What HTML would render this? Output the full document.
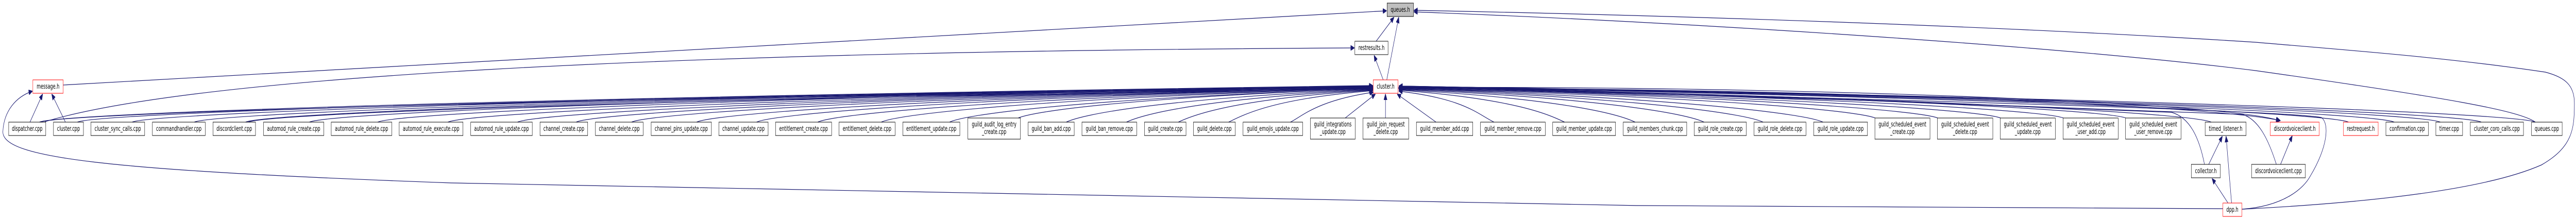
<!DOCTYPE html>
<html>
<head>
<meta charset="utf-8">
<style>
html,body{margin:0;padding:0;background:#ffffff;overflow:hidden;width:100%;height:100%;}
svg{display:block;width:100vw;height:100vh;}
text{font-family:"DejaVu Sans","Liberation Sans",sans-serif;font-size:13px;fill:#000;text-anchor:middle;}
</style>
</head>
<body>
<svg xmlns="http://www.w3.org/2000/svg" viewBox="0 0 7995 425" preserveAspectRatio="none">
<defs>
<marker id="a" viewBox="0 0 12 10" refX="11" refY="5" markerWidth="12" markerHeight="10" markerUnits="userSpaceOnUse" orient="auto">
<path d="M0,0 L12,5 L0,10 z" fill="#191970" stroke="#191970"/>
</marker>
</defs>
<rect x="0" y="0" width="7995" height="425" fill="#ffffff"/>
<g fill="none" stroke="#191970" stroke-width="1.2" marker-end="url(#a)">
<path d="M196,165 L4303,21"/>
<path d="M140,236 C600,150 2000,100 4203,93"/>
<path d="M93,237 L132,183"/>
<path d="M203,237 L161,183"/>
<path d="M6899,405 C5000,405 2500,380 1400,355 C300,330 5,305 9,255 C12,215 50,188 100,177"/>
<path d="M4271,80 L4326,34"/>
<path d="M4293,155 L4265,108"/>
<path d="M4304,155 L4341,34"/>
<path d="M6958,406 C7300,395 7700,372 7888,320 C7985,285 7990,250 7990,200 C7990,165 7960,150 7900,140 C7600,112 7300,98 7000,82 C6200,50 5200,30 4389,20"/>
<path d="M7869,237 C7820,215 7600,190 7000,137 C6400,90 5300,45 4389,23"/>
<path d="M6915,394 L6866,347"/>
<path d="M6926,394 L6909,265"/>
<path d="M6855,319 L6897,265"/>
<path d="M7078,319 L7114,264"/>
<path d="M6842,319 C6825,265 6795,228 6740,218 C6000,196 4700,174 4342,168"/>
<path d="M7065,319 C7040,270 7010,232 6960,222 C6200,200 4700,175 4342,168"/>
<path d="M6958,406 C7090,400 7150,365 7170,342 C7225,285 7230,240 7205,228 C7100,215 6000,195 4342,168"/>
<path d="M126,237 C180,221 1500,194 4300,170 C5500,165 6900,198 7075,234"/>
<path d="M770,237 C830,221 2000,192 4300,172 C5500,168 6850,203 7077,234"/>
<path d="M122,237 C172,222 1364,192 4260,166"/>
<path d="M240,237 C290,222 1447,192 4260,167"/>
<path d="M410,237 C460,222 1566,192 4260,167"/>
<path d="M603,237 C653,222 1701,192 4260,167"/>
<path d="M762,237 C812,222 1812,192 4260,168"/>
<path d="M960,237 C1010,222 1951,192 4260,168"/>
<path d="M1172,237 C1222,222 2099,192 4260,168"/>
<path d="M1390,237 C1440,222 2252,192 4260,169"/>
<path d="M1606,237 C1656,222 2403,192 4260,169"/>
<path d="M1788,237 C1838,222 2531,192 4260,169"/>
<path d="M1960,237 C2010,222 2651,192 4260,170"/>
<path d="M2162,237 C2212,222 2792,192 4260,170"/>
<path d="M2348,237 C2398,222 2922,192 4260,170"/>
<path d="M2538,237 C2588,222 3055,192 4260,171"/>
<path d="M2735,237 C2785,222 3193,192 4260,171"/>
<path d="M2947,237 C2997,222 3342,192 4260,172"/>
<path d="M3160,229 C3210,216 3491,190 4260,172"/>
<path d="M3309,237 C3359,222 3595,192 4260,173"/>
<path d="M3496,237 C3546,222 3726,192 4260,174"/>
<path d="M3657,237 C3707,222 3839,192 4260,175"/>
<path d="M3813,237 C3863,222 3948,192 4260,176"/>
<path d="M4005,237 C4045,224 4090,195 4262,179"/>
<path d="M4175,229 L4268,183"/>
<path d="M4300,229 L4300,183"/>
<path d="M4457,237 L4337,183"/>
<path d="M4637,237 C4587,222 4548,192 4342,177"/>
<path d="M4856,237 C4806,222 4701,192 4342,175"/>
<path d="M5075,237 C5025,222 4855,192 4342,174"/>
<path d="M5289,237 C5239,222 5004,192 4342,173"/>
<path d="M5472,237 C5422,222 5132,192 4342,172"/>
<path d="M5658,237 C5608,222 5263,192 4342,171"/>
<path d="M5820,229 C5770,216 5376,190 4342,171"/>
<path d="M6014,229 C5964,216 5512,190 4342,170"/>
<path d="M6209,229 C6159,216 5648,190 4342,170"/>
<path d="M6404,229 C6354,216 5785,190 4342,169"/>
<path d="M6598,229 C6548,216 5921,190 4342,169"/>
<path d="M6863,237 C6813,222 6106,192 4342,168"/>
<path d="M7289,237 C7239,222 6404,192 4342,168"/>
<path d="M7431,237 C7381,222 6504,192 4342,168"/>
<path d="M7574,237 C7524,222 6604,192 4342,167"/>
<path d="M7701,237 C7651,222 6693,192 4342,167"/>
<path d="M7869,237 C7819,222 6810,192 4342,167"/>
</g>

<g stroke="#000000" stroke-width="1" fill="#ffffff">
<rect x="4305" y="6" width="82" height="26" fill="#bfbfbf"/>
<rect x="4205" y="80" width="103" height="26"/>
<rect x="102" y="155" width="94" height="26" stroke="#ff0000"/>
<rect x="4262" y="155" width="77" height="26" stroke="#ff0000"/>
<rect x="27" y="237" width="115" height="26"/>
<rect x="166" y="237" width="93" height="26"/>
<rect x="282" y="237" width="167" height="26"/>
<rect x="473" y="237" width="164" height="26"/>
<rect x="661" y="237" width="132" height="26"/>
<rect x="818" y="237" width="187" height="26"/>
<rect x="1028" y="237" width="188" height="26"/>
<rect x="1239" y="237" width="198" height="26"/>
<rect x="1461" y="237" width="191" height="26"/>
<rect x="1676" y="237" width="148" height="26"/>
<rect x="1848" y="237" width="148" height="26"/>
<rect x="2021" y="237" width="187" height="26"/>
<rect x="2231" y="237" width="153" height="26"/>
<rect x="2407" y="237" width="174" height="26"/>
<rect x="2604" y="237" width="174" height="26"/>
<rect x="2802" y="237" width="177" height="26"/>
<rect x="3004" y="229" width="163" height="41"/>
<rect x="3191" y="237" width="143" height="26"/>
<rect x="3358" y="237" width="170" height="26"/>
<rect x="3552" y="237" width="129" height="26"/>
<rect x="3704" y="237" width="130" height="26"/>
<rect x="3858" y="237" width="185" height="26"/>
<rect x="4067" y="229" width="139" height="41"/>
<rect x="4230" y="229" width="142" height="41"/>
<rect x="4396" y="237" width="175" height="26"/>
<rect x="4595" y="237" width="201" height="26"/>
<rect x="4819" y="237" width="195" height="26"/>
<rect x="5038" y="237" width="197" height="26"/>
<rect x="5258" y="237" width="162" height="26"/>
<rect x="5444" y="237" width="161" height="26"/>
<rect x="5629" y="237" width="167" height="26"/>
<rect x="5819" y="229" width="171" height="41"/>
<rect x="6013" y="229" width="172" height="41"/>
<rect x="6208" y="229" width="171" height="41"/>
<rect x="6403" y="229" width="171" height="41"/>
<rect x="6597" y="229" width="172" height="41"/>
<rect x="6844" y="237" width="127" height="26"/>
<rect x="7046" y="237" width="152" height="26" stroke="#ff0000"/>
<rect x="7273" y="237" width="108" height="26" stroke="#ff0000"/>
<rect x="7405" y="237" width="132" height="26"/>
<rect x="7560" y="237" width="83" height="26"/>
<rect x="7667" y="237" width="165" height="26"/>
<rect x="7857" y="237" width="95" height="26"/>
<rect x="6801" y="319" width="90" height="26"/>
<rect x="6988" y="319" width="167" height="26"/>
<rect x="6899" y="394" width="59" height="26" stroke="#ff0000"/>
</g>

<g>
<text x="4346" y="23">queues.h</text>
<text x="4256.5" y="97">restresults.h</text>
<text x="149" y="172">message.h</text>
<text x="4300.5" y="172">cluster.h</text>
<text x="84.5" y="254">dispatcher.cpp</text>
<text x="212.5" y="254">cluster.cpp</text>
<text x="365.5" y="254">cluster_sync_calls.cpp</text>
<text x="555" y="254">commandhandler.cpp</text>
<text x="727" y="254">discordclient.cpp</text>
<text x="911.5" y="254">automod_rule_create.cpp</text>
<text x="1122" y="254">automod_rule_delete.cpp</text>
<text x="1338" y="254">automod_rule_execute.cpp</text>
<text x="1556.5" y="254">automod_rule_update.cpp</text>
<text x="1750" y="254">channel_create.cpp</text>
<text x="1922" y="254">channel_delete.cpp</text>
<text x="2114.5" y="254">channel_pins_update.cpp</text>
<text x="2307.5" y="254">channel_update.cpp</text>
<text x="2494" y="254">entitlement_create.cpp</text>
<text x="2691" y="254">entitlement_delete.cpp</text>
<text x="2890.5" y="254">entitlement_update.cpp</text>
<text x="3085.5" y="245.5">guild_audit_log_entry</text>
<text x="3085.5" y="260">_create.cpp</text>
<text x="3262.5" y="254">guild_ban_add.cpp</text>
<text x="3443" y="254">guild_ban_remove.cpp</text>
<text x="3616.5" y="254">guild_create.cpp</text>
<text x="3769" y="254">guild_delete.cpp</text>
<text x="3950.5" y="254">guild_emojis_update.cpp</text>
<text x="4136.5" y="245.5">guild_integrations</text>
<text x="4136.5" y="260">_update.cpp</text>
<text x="4301" y="245.5">guild_join_request</text>
<text x="4301" y="260">_delete.cpp</text>
<text x="4483.5" y="254">guild_member_add.cpp</text>
<text x="4695.5" y="254">guild_member_remove.cpp</text>
<text x="4916.5" y="254">guild_member_update.cpp</text>
<text x="5136.5" y="254">guild_members_chunk.cpp</text>
<text x="5339" y="254">guild_role_create.cpp</text>
<text x="5524.5" y="254">guild_role_delete.cpp</text>
<text x="5712.5" y="254">guild_role_update.cpp</text>
<text x="5904.5" y="245.5">guild_scheduled_event</text>
<text x="5904.5" y="260">_create.cpp</text>
<text x="6099" y="245.5">guild_scheduled_event</text>
<text x="6099" y="260">_delete.cpp</text>
<text x="6293.5" y="245.5">guild_scheduled_event</text>
<text x="6293.5" y="260">_update.cpp</text>
<text x="6488.5" y="245.5">guild_scheduled_event</text>
<text x="6488.5" y="260">_user_add.cpp</text>
<text x="6683" y="245.5">guild_scheduled_event</text>
<text x="6683" y="260">_user_remove.cpp</text>
<text x="6907.5" y="254">timed_listener.h</text>
<text x="7122" y="254">discordvoiceclient.h</text>
<text x="7327" y="254">restrequest.h</text>
<text x="7471" y="254">confirmation.cpp</text>
<text x="7601.5" y="254">timer.cpp</text>
<text x="7749.5" y="254">cluster_coro_calls.cpp</text>
<text x="7904.5" y="254">queues.cpp</text>
<text x="6846" y="336">collector.h</text>
<text x="7071.5" y="336">discordvoiceclient.cpp</text>
<text x="6928.5" y="411">dpp.h</text>
</g>
</svg>
</body>
</html>
